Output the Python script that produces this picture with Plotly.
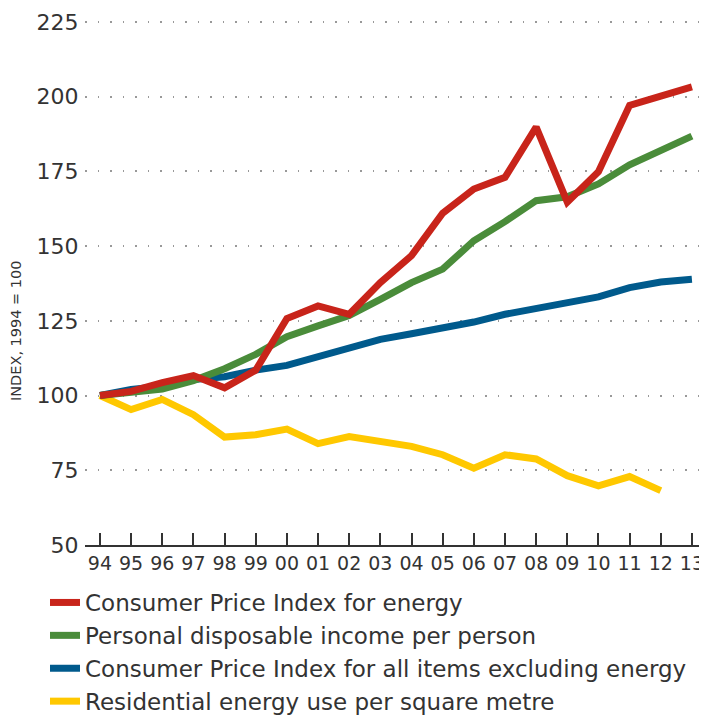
import plotly.graph_objects as go

years = list(range(1994, 2014))
year_labels = ["94", "95", "96", "97", "98", "99", "00", "01", "02", "03",
               "04", "05", "06", "07", "08", "09", "10", "11", "12", "13"]

cpi_energy = [100, 101.4, 104.3, 106.7, 102.6, 108.5, 125.8, 130.0, 127.2, 137.8,
              146.8, 161.0, 169.1, 173.0, 189.8, 164.7, 174.9, 197.1, 200.2, 203.3]
income = [100, 100.9, 102.2, 105.0, 109.0, 113.8, 119.7, 123.3, 126.8, 132.2,
          137.8, 142.3, 151.8, 158.2, 165.2, 166.5, 170.8, 177.2, 182.3, 186.8]
cpi_excl = [100, 102.0, 103.1, 105.4, 106.3, 108.5, 110.1, 113.0, 115.9, 118.8,
            120.7, 122.7, 124.6, 127.2, 129.2, 131.3, 133.0, 136.1, 138.0, 138.9]
residential = [100, 95.3, 98.7, 93.6, 86.1, 86.9, 88.8, 83.9, 86.3, 84.7,
               83.0, 80.2, 75.7, 80.2, 78.8, 73.2, 69.8, 72.9, 68.2, None]

series_names = ["Consumer Price Index for energy",
                "Personal disposable income per person",
                "Consumer Price Index for all items excluding energy",
                "Residential energy use per square metre"]
series_values = [cpi_energy, income, cpi_excl, residential]
series_colors = ["#c8241a", "#4a8c3a", "#005a8c", "#ffc800"]

y_ticks = [50, 75, 100, 125, 150, 175, 200, 225]

FONT = "DejaVu Sans"
W, H = 699, 707  # page body has an 8px margin

fig = go.Figure()
# draw order: yellow, blue, green, red on top
for i in [3, 2, 1, 0]:
    fig.add_trace(go.Scatter(
        x=years, y=series_values[i], name=series_names[i], mode="lines",
        line=dict(color=series_colors[i], width=7, shape="linear"),
        legendrank=i + 1,
    ))

fig.update_layout(
    width=W, height=H,
    margin=dict(l=77, r=2, t=8, b=170, autoexpand=False),
    paper_bgcolor="white", plot_bgcolor="white",
    font=dict(family=FONT, color="#333333"),
    showlegend=True,
    legend=dict(
        xref="container", yref="container",
        x=37 / W, y=1 - 573 / H, xanchor="left", yanchor="top",
        font=dict(size=23, color="#333333", family=FONT),
        itemwidth=30, tracegroupgap=0, traceorder="normal",
        bgcolor="rgba(0,0,0,0)",
    ),
    xaxis=dict(
        range=[1993.52, 2013.42],
        tickvals=years, ticktext=year_labels,
        ticks="inside", ticklen=12, tickwidth=1.5, tickcolor="#333333",
        showline=True, linecolor="#333333", linewidth=1.5,
        showgrid=False, zeroline=False, automargin=False,
        tickfont=dict(size=19, color="#333333", family=FONT),
        fixedrange=True,
    ),
    yaxis=dict(
        range=[50, 227],
        tickvals=y_ticks,
        showgrid=True, gridcolor="#999999", gridwidth=1.5, griddash="1.5px,11px",
        zeroline=False, showline=False, automargin=False,
        ticks="outside", ticklen=1, tickcolor="rgba(0,0,0,0)",
        tickfont=dict(size=22, color="#333333", family=FONT),
        fixedrange=True,
    ),
    annotations=[dict(
        text="INDEX, 1994 = 100", textangle=-90,
        xref="paper", yref="paper", x=-69 / 620, y=(537 - 323) / 529,
        xanchor="center", yanchor="middle", showarrow=False,
        font=dict(size=14.5, color="#333333", family=FONT),
    )],
)

fig.write_html("out.html")
